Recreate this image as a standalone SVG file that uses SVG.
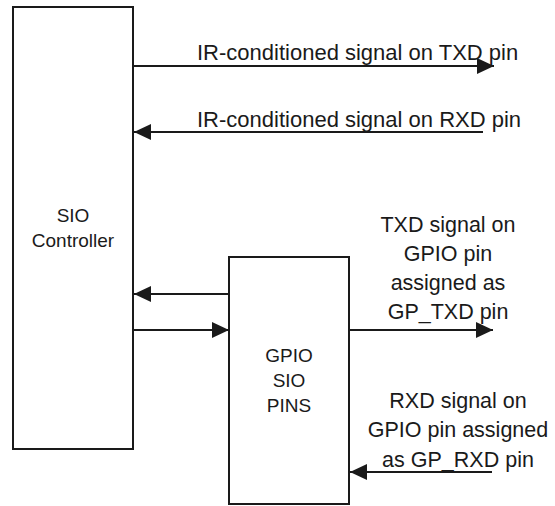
<svg xmlns="http://www.w3.org/2000/svg" width="555" height="506" viewBox="0 0 555 506">
<style>
.box{fill:#fff;stroke:#1a1a1a;stroke-width:2}
.wire{stroke:#1a1a1a;stroke-width:2;fill:none}
text{font-family:"Liberation Sans",Arial,sans-serif;fill:#1a1a1a}
.lbl{font-size:19px;text-anchor:middle}
.sig{font-size:21.5px;text-anchor:middle}
.top{font-size:22px}
</style>
<defs>
<marker id="ah" markerUnits="userSpaceOnUse" markerWidth="18" markerHeight="16" refX="17" refY="8" orient="auto">
<path d="M0,0 L17,8 L0,16 z" fill="#1a1a1a"/>
</marker>
</defs>
<rect width="555" height="506" fill="#fff"/>
<g id="sio-controller">
<rect class="box" x="13" y="7" width="120" height="442"/>
<text class="lbl" x="73" y="222">SIO</text>
<text class="lbl" x="73" y="247">Controller</text>
</g>
<g id="gpio-sio-pins">
<rect class="box" x="229" y="257" width="120" height="247"/>
<text class="lbl" x="289" y="362">GPIO</text>
<text class="lbl" x="289" y="387">SIO</text>
<text class="lbl" x="289" y="412">PINS</text>
</g>
<g id="connectors">
<line class="wire" x1="133" y1="66" x2="494" y2="66" marker-end="url(#ah)"/>
<line class="wire" x1="483" y1="132" x2="134" y2="132" marker-end="url(#ah)"/>
<line class="wire" x1="229" y1="294" x2="134" y2="294" marker-end="url(#ah)"/>
<line class="wire" x1="133" y1="330" x2="229" y2="330" marker-end="url(#ah)"/>
<line class="wire" x1="349" y1="330" x2="493" y2="330" marker-end="url(#ah)"/>
<line class="wire" x1="492" y1="472" x2="350" y2="472" marker-end="url(#ah)"/>
</g>
<g id="labels">
<text class="top" x="197" y="60">IR-conditioned signal on TXD pin</text>
<text class="top" x="197" y="127">IR-conditioned signal on RXD pin</text>
<text class="sig" x="448" y="232">TXD signal on</text>
<text class="sig" x="448" y="261">GPIO pin</text>
<text class="sig" x="448" y="290">assigned as</text>
<text class="sig" x="448" y="319">GP_TXD pin</text>
<text class="sig" x="458" y="408">RXD signal on</text>
<text class="sig" x="458" y="437">GPIO pin assigned</text>
<text class="sig" x="458" y="467">as GP_RXD pin</text>
</g>
</svg>
